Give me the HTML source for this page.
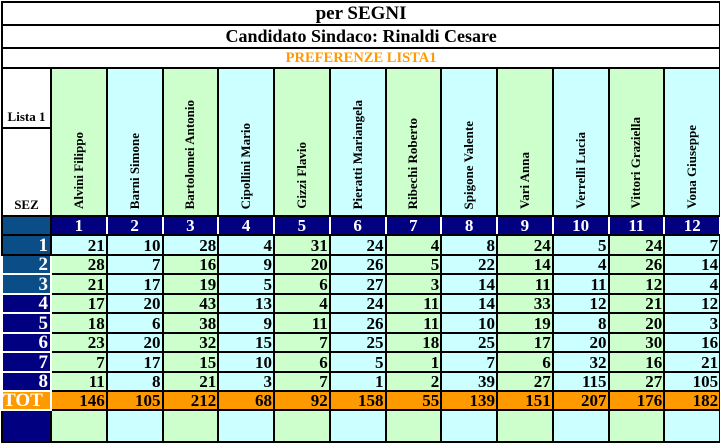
<!DOCTYPE html>
<html><head><meta charset="utf-8"><style>
body{margin:0;background:#fff;width:720px;height:447px;overflow:hidden}
table{position:absolute;left:1px;top:1px;border-collapse:collapse;table-layout:fixed;width:718px;font-family:"Liberation Serif",serif;font-weight:bold}
td{border:2px solid #000;padding:0;overflow:hidden}
.t{text-align:center;color:#000;background:#fff}
.g{background:#ccffcc}.c{background:#ccffff}
.n{text-align:right;font-size:17px;padding-right:1px;line-height:17px;vertical-align:bottom}
.hd{vertical-align:bottom;text-align:center;padding-bottom:1px}
.hd span{writing-mode:vertical-rl;transform:rotate(180deg);font-size:13px;display:inline-block;white-space:nowrap}
.num td.x{background:#000080;color:#fff;text-align:center;font-size:17px;border:2px solid #fff;border-bottom-color:#000;line-height:16px}
.lab{color:#fff;text-align:right;font-size:19px;border:2px solid #fff;padding-right:2px;line-height:16px;vertical-align:bottom}
.s{background:#0b4d86}.v{background:#000080}
.o{background:#ff9900}
</style></head><body>
<table>
<colgroup><col style="width:49px"><col span="12" style="width:55.75px"></colgroup>
<tr style="height:23px"><td class="t" colspan="13" style="font-size:19px;line-height:19px">per SEGNI</td></tr>
<tr style="height:23px"><td class="t" colspan="13" style="font-size:18px;line-height:19px">Candidato Sindaco: Rinaldi Cesare</td></tr>
<tr style="height:20px"><td class="t" colspan="13" style="font-size:14.5px;line-height:16px;color:#ff9900;border-bottom:none">PREFERENZE LISTA1</td></tr>
<tr style="height:60px"><td style="vertical-align:bottom;text-align:center;font-size:13px;background:#fff;padding-bottom:2px">Lista 1</td>
<td class="g hd" rowspan="2"><span>Alvini Filippo</span></td>
<td class="c hd" rowspan="2"><span>Barni Simone</span></td>
<td class="g hd" rowspan="2"><span>Bartolomei Antonio</span></td>
<td class="c hd" rowspan="2"><span>Cipollini Mario</span></td>
<td class="g hd" rowspan="2"><span>Gizzi Flavio</span></td>
<td class="c hd" rowspan="2"><span>Pieratti Mariangela</span></td>
<td class="g hd" rowspan="2"><span>Ribechi Roberto</span></td>
<td class="c hd" rowspan="2"><span>Spigone Valente</span></td>
<td class="g hd" rowspan="2"><span>Vari Anna</span></td>
<td class="c hd" rowspan="2"><span>Verrelli Lucia</span></td>
<td class="g hd" rowspan="2"><span>Vittori Graziella</span></td>
<td class="c hd" rowspan="2"><span>Vona Giuseppe</span></td></tr>
<tr style="height:88px"><td style="vertical-align:bottom;text-align:center;font-size:13px;background:#fff;padding-bottom:2px">SEZ</td></tr>
<tr class="num" style="height:19px"><td style="background:#0b4d86"></td><td class="x">1</td><td class="x">2</td><td class="x">3</td><td class="x">4</td><td class="x">5</td><td class="x">6</td><td class="x">7</td><td class="x">8</td><td class="x">9</td><td class="x">10</td><td class="x">11</td><td class="x">12</td></tr>
<tr style="height:19.5px"><td class="lab s" style="border-color:#000">1</td><td class="c n">21</td><td class="c n">10</td><td class="c n">28</td><td class="c n">4</td><td class="g n">31</td><td class="c n">24</td><td class="g n">4</td><td class="c n">8</td><td class="g n">24</td><td class="c n">5</td><td class="g n">24</td><td class="c n">7</td></tr>
<tr style="height:19.5px"><td class="lab s">2</td><td class="g n">28</td><td class="c n">7</td><td class="g n">16</td><td class="c n">9</td><td class="g n">20</td><td class="c n">26</td><td class="g n">5</td><td class="c n">22</td><td class="g n">14</td><td class="c n">4</td><td class="g n">26</td><td class="c n">14</td></tr>
<tr style="height:19.5px"><td class="lab s">3</td><td class="g n">21</td><td class="c n">17</td><td class="g n">19</td><td class="c n">5</td><td class="g n">6</td><td class="c n">27</td><td class="g n">3</td><td class="c n">14</td><td class="g n">11</td><td class="c n">11</td><td class="g n">12</td><td class="c n">4</td></tr>
<tr style="height:19.5px"><td class="lab v">4</td><td class="g n">17</td><td class="c n">20</td><td class="g n">43</td><td class="c n">13</td><td class="g n">4</td><td class="c n">24</td><td class="g n">11</td><td class="c n">14</td><td class="g n">33</td><td class="c n">12</td><td class="g n">21</td><td class="c n">12</td></tr>
<tr style="height:19.5px"><td class="lab v">5</td><td class="g n">18</td><td class="c n">6</td><td class="g n">38</td><td class="c n">9</td><td class="g n">11</td><td class="c n">26</td><td class="g n">11</td><td class="c n">10</td><td class="g n">19</td><td class="c n">8</td><td class="g n">20</td><td class="c n">3</td></tr>
<tr style="height:19.5px"><td class="lab v">6</td><td class="g n">23</td><td class="c n">20</td><td class="g n">32</td><td class="c n">15</td><td class="g n">7</td><td class="c n">25</td><td class="g n">18</td><td class="c n">25</td><td class="g n">17</td><td class="c n">20</td><td class="g n">30</td><td class="c n">16</td></tr>
<tr style="height:19.5px"><td class="lab v">7</td><td class="g n">7</td><td class="c n">17</td><td class="g n">15</td><td class="c n">10</td><td class="g n">6</td><td class="c n">5</td><td class="g n">1</td><td class="c n">7</td><td class="g n">6</td><td class="c n">32</td><td class="g n">16</td><td class="c n">21</td></tr>
<tr style="height:19.5px"><td class="lab v">8</td><td class="g n">11</td><td class="c n">8</td><td class="g n">21</td><td class="c n">3</td><td class="g n">7</td><td class="c n">1</td><td class="g n">2</td><td class="c n">39</td><td class="g n">27</td><td class="c n">115</td><td class="g n">27</td><td class="c n">105</td></tr>
<tr style="height:19px"><td class="o" style="color:#fff;font-size:19px;border:2px solid #fff;text-align:left;line-height:16px">TOT</td><td class="o n">146</td><td class="o n">105</td><td class="o n">212</td><td class="o n">68</td><td class="o n">92</td><td class="o n">158</td><td class="o n">55</td><td class="o n">139</td><td class="o n">151</td><td class="o n">207</td><td class="o n">176</td><td class="o n">182</td></tr>
<tr style="height:32px"><td class="v"></td><td class="g"></td><td class="c"></td><td class="g"></td><td class="c"></td><td class="g"></td><td class="c"></td><td class="g"></td><td class="c"></td><td class="g"></td><td class="c"></td><td class="g"></td><td class="c"></td></tr>
</table>
</body></html>
